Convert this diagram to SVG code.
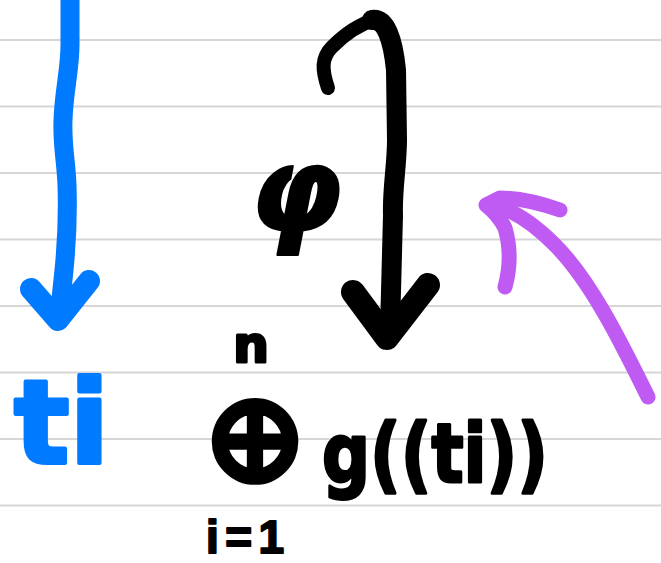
<svg xmlns="http://www.w3.org/2000/svg" width="661" height="563" viewBox="0 0 661 563">
<style>
.rule{stroke:#d6d6d6;stroke-width:2}
.ink{fill:none;stroke-linecap:round;stroke-linejoin:round}
.blue{stroke:#007aff}
.black{stroke:#000}
.purple{stroke:#bf5af2}
.hw{font-family:"DejaVu Sans",sans-serif;font-weight:bold;stroke-linejoin:round}
.hwb{fill:#000;stroke:#000}
.hwblue{fill:#007aff;stroke:#007aff}
</style>
<rect width="661" height="563" fill="#fff"/>
<g id="ruling">
<line class="rule" x1="0" y1="40" x2="661" y2="40"/>
<line class="rule" x1="0" y1="106.5" x2="661" y2="106.5"/>
<line class="rule" x1="0" y1="173" x2="661" y2="173"/>
<line class="rule" x1="0" y1="239.5" x2="661" y2="239.5"/>
<line class="rule" x1="0" y1="306" x2="661" y2="306"/>
<line class="rule" x1="0" y1="372.5" x2="661" y2="372.5"/>
<line class="rule" x1="0" y1="439" x2="661" y2="439"/>
<line class="rule" x1="0" y1="505.5" x2="661" y2="505.5"/>
</g>
<g id="connectors">
<path class="ink blue" stroke-width="19" d="M70,0 L70,45 C70,70 64,90 63,120 C62,145 66,160 67,185 C68,215 67,240 64,270 L59,318"/>
<path class="ink blue" stroke-width="22" d="M31,289 L58,320 L89,281"/>
<path class="ink black" stroke-width="14" d="M328,88 C322,70 321,58 332,47 C345,34 360,24 374,20"/>
<path class="ink black" stroke-width="20" d="M372,20 C386,18 393,40 396,70 L397,140 C397,165 392,190 393,215 L390,330"/>
<path class="ink black" stroke-width="24" d="M353,292 L387,338 L428,285"/>
<path class="ink purple" stroke-width="15" d="M648,397 C620,340 590,280 555,245 C530,220 510,208 490,205"/>
<path class="ink purple" stroke-width="15" d="M505,287 C511,265 510,245 505,228 C500,218 495,212 486,205 L500,198 C520,198 540,203 560,210"/>
</g>
<g id="phi"><text class="hw hwb" x="296" y="230" font-size="118" font-style="italic" stroke-width="2" text-anchor="middle">φ</text></g>
<g id="ti"><text class="hw hwblue" x="14" y="463" font-size="116" stroke-width="4">ti</text></g>
<g id="sum">
<text class="hw hwb" x="251" y="362" font-size="50" stroke-width="3" text-anchor="middle">n</text>
<text class="hw hwb" x="255" y="481" font-size="126" stroke-width="4" text-anchor="middle">⊕</text>
<text class="hw hwb" x="206" y="553" font-size="46" stroke-width="2" textLength="78" lengthAdjust="spacing" style="font-family:'Liberation Sans',sans-serif">i=1</text>
</g>
<g id="g-ti"><text class="hw hwb" x="322" y="482" font-size="82" stroke-width="3" textLength="226" lengthAdjust="spacingAndGlyphs">g((ti))</text></g>
</svg>
